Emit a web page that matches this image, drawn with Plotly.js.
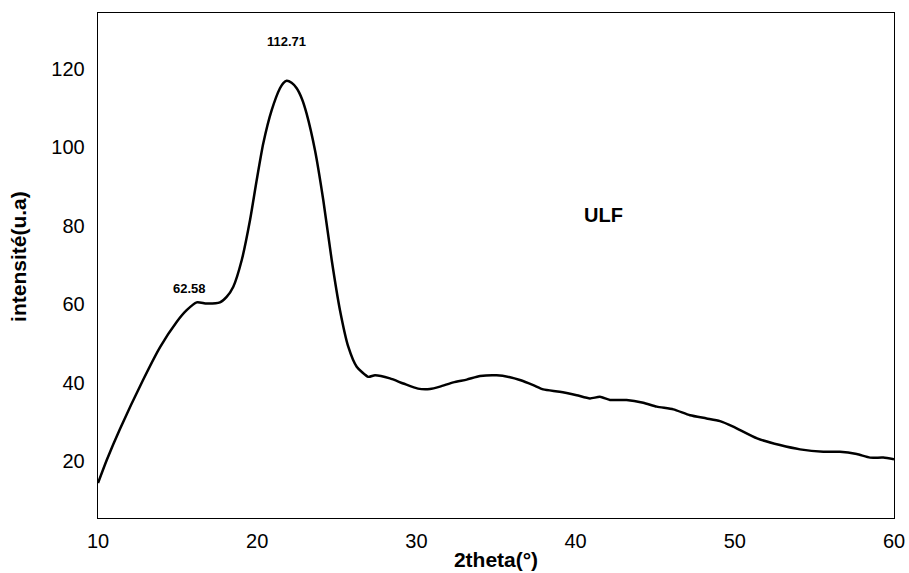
<!DOCTYPE html>
<html><head><meta charset="utf-8">
<script src="https://cdn.plot.ly/plotly-3.0.1.min.js"></script>
<style>html,body{margin:0;padding:0;background:#fff}#c{width:909px;height:573px}</style>
</head><body><div id="c"></div>
<script>
const twoTheta = [10, 10.55, 11.38, 12.83, 13.9, 14.94, 15.57, 16.2, 16.83, 17.66, 18.08, 18.5, 19.03, 19.55, 19.97, 20.38, 20.91, 21.43, 21.64, 21.85, 22.16, 22.48, 22.8, 23.1, 23.63, 24.15, 24.68, 25.2, 25.72, 26.25, 26.98, 27.4, 28.34, 29.18, 30.1, 30.85, 31.48, 32.32, 33.16, 34.0, 35.04, 35.88, 36.5, 37.34, 37.97, 39.0, 40.07, 40.9, 41.53, 42.16, 43.2, 44.25, 45.1, 46.14, 47.19, 48.23, 49.07, 49.9, 51.4, 52.84, 54.1, 55.56, 56.6, 57.66, 58.5, 59.33, 60];
const intensity = [14.4, 20.3, 28.2, 40.7, 49.1, 55.5, 58.5, 60.5, 60.2, 60.5, 61.9, 64.5, 71.3, 81.5, 91.7, 101, 109.5, 115.1, 116.4, 117.0, 116.5, 115.1, 112.5, 108.7, 99.3, 86.6, 71.3, 58.5, 49.2, 44.1, 41.5, 41.9, 41.1, 39.8, 38.5, 38.4, 39.0, 40.1, 40.8, 41.7, 41.9, 41.4, 40.7, 39.4, 38.3, 37.7, 36.8, 36.0, 36.4, 35.6, 35.6, 34.9, 33.9, 33.2, 31.7, 30.9, 30.2, 28.8, 25.8, 24.1, 23.0, 22.4, 22.4, 21.8, 20.9, 20.9, 20.5];
const xTicks = [10, 20, 30, 40, 50, 60];
const yTicks = [20, 40, 60, 80, 100, 120];
const peakLabels = ["112.71", "62.58"];
const sampleName = "ULF";
const xTitle = "2theta(°)";
const yTitle = "intensité(u.a)";

const F = "Liberation Sans, Arial, sans-serif";
Plotly.newPlot("c", [{
  x: twoTheta, y: intensity, type: "scatter", mode: "lines",
  line: {color: "#000", width: 2.5, shape: "spline", smoothing: 0.6},
  hoverinfo: "skip"
}], {
  width: 909, height: 573,
  margin: {l: 98, r: 15, t: 13, b: 55, pad: 0},
  paper_bgcolor: "#fff", plot_bgcolor: "#fff",
  showlegend: false,
  xaxis: {
    range: [10, 60], tickvals: xTicks, ticks: "", showgrid: false, zeroline: false,
    showline: true, mirror: true, linecolor: "#000", linewidth: 1.3,
    ticklabelstandoff: 5,
    tickfont: {family: F, size: 20, color: "#000"},
    title: {text: "<b>" + xTitle + "</b>", font: {family: F, size: 21, color: "#000"}, standoff: 1}
  },
  yaxis: {
    range: [5.5, 134.3], tickvals: yTicks, ticks: "", showgrid: false, zeroline: false,
    showline: true, mirror: true, linecolor: "#000", linewidth: 1.3,
    ticklabelstandoff: 8,
    tickfont: {family: F, size: 20, color: "#000"}
  },
  annotations: [
    {xref: "paper", yref: "paper", x: -0.0992, y: 0.517, xanchor: "center", yanchor: "middle",
     textangle: -90, text: "<b>" + yTitle + "</b>", showarrow: false, font: {family: F, size: 21, color: "#000"}},
    {x: 21.87, y: 127.1, text: "<b>" + peakLabels[0] + "</b>", showarrow: false, font: {family: F, size: 13, color: "#000"}},
    {x: 15.72, y: 64.1, text: "<b>" + peakLabels[1] + "</b>", showarrow: false, font: {family: F, size: 13, color: "#000"}},
    {x: 41.78, y: 82.8, text: "<b>" + sampleName + "</b>", showarrow: false, font: {family: F, size: 20, color: "#000"}}
  ]
}, {displayModeBar: false, staticPlot: true});
</script></body></html>
